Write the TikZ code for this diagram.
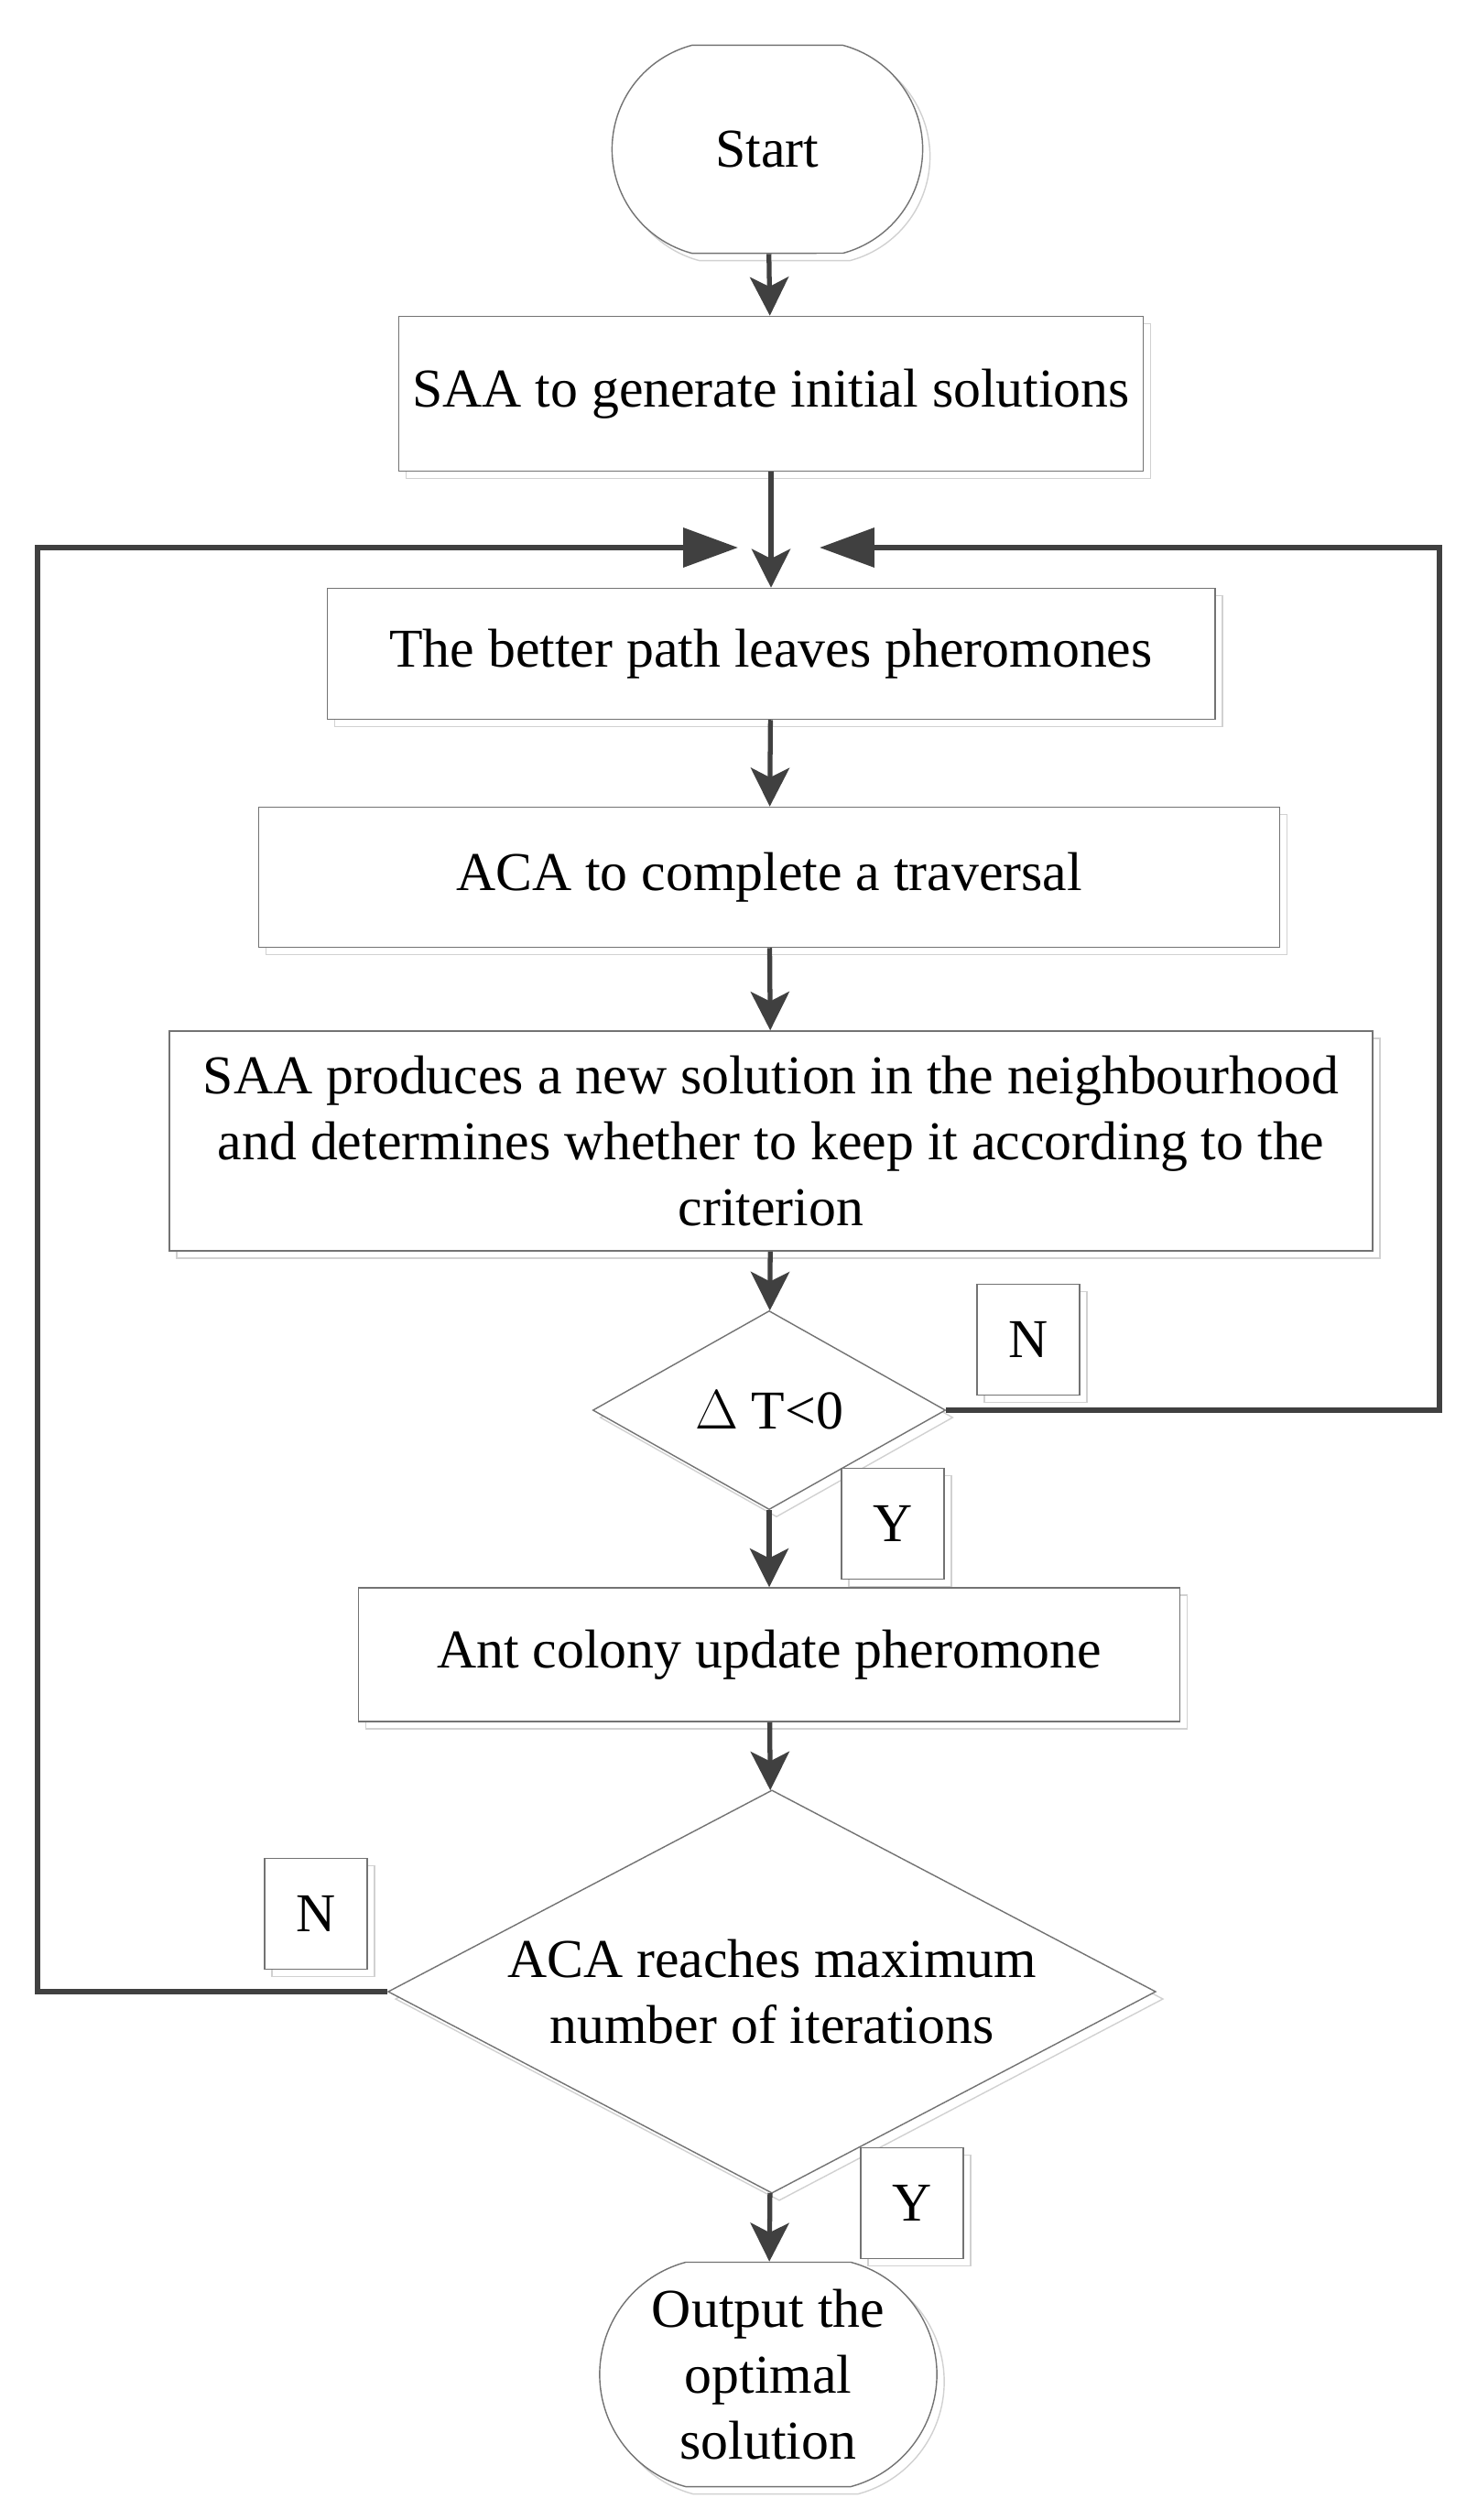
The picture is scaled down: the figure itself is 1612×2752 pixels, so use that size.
\documentclass[tikz,border=0pt]{standalone}
\usepackage{fontspec}
\setmainfont{Liberation Serif}
\usetikzlibrary{shapes.geometric,shapes.misc,arrows.meta}

\tikzset{
  shade box/.style={preaction={draw=black!18, transform canvas={shift={(0.08cm,-0.08cm)}}}},
  txt/.style={font=\fontsize{17}{20.5}\selectfont, align=center},
  stepbox/.style={draw=black!55, line width=0.4pt, fill=white, txt, inner sep=0pt, shade box},
  terminal/.style={stepbox, rounded rectangle, rounded rectangle arc length=150},
  decision/.style={stepbox, diamond},
  yesno/.style={stepbox, minimum width=1.12cm, minimum height=1.21cm},
  flow/.style={draw=black!75, line width=1.5pt, -{Stealth[length=12pt,width=12pt,inset=3pt]}},
  loop/.style={draw=black!75, line width=1.6pt, -{Stealth[length=17pt,width=12pt,inset=0pt]}},
}

\begin{document}
\begin{tikzpicture}[x=0.01cm,y=-0.01cm]
  \useasboundingbox (0,0) rectangle (1612,2752);

  \node[terminal, minimum width=3.39cm, minimum height=2.27cm] (start) at (838,163) {Start};
  \node[stepbox, minimum width=8.12cm, minimum height=1.69cm] (saa) at (842,430) {SAA to generate initial solutions};
  \node[stepbox, minimum width=9.69cm, minimum height=1.43cm] (better) at (842,714) {The better path leaves pheromones};
  \node[stepbox, minimum width=11.14cm, minimum height=1.53cm] (aca) at (840,958) {ACA to complete a traversal};
  \node[stepbox, minimum width=13.13cm, minimum height=2.40cm] (neigh) at (842,1246)
    {SAA produces a new solution in the neighbourhood\\and determines whether to keep it according to the\\criterion};
  \node[decision, aspect=1.77, minimum width=3.85cm, minimum height=2.17cm] (dT) at (840,1540) {$\Delta$ T<0};
  \node[stepbox, minimum width=8.97cm, minimum height=1.46cm] (ant) at (840,1807) {Ant colony update pheromone};
  \node[decision, aspect=1.9, minimum width=8.38cm, minimum height=4.40cm] (iter) at (843,2175)
    {ACA reaches maximum\\number of iterations};
  \node[terminal, minimum width=3.68cm, minimum height=2.45cm] (stop) at (839,2593)
    {Output the\\optimal\\solution};

  % yes / no labels
  \node[yesno] (n1) at (1123,1463) {N};
  \node[yesno] (y1) at (975,1664) {Y};
  \node[yesno] (n2) at (345,2090) {N};
  \node[yesno] (y2) at (996,2406) {Y};

  \coordinate (inL) at (806,598);
  \coordinate (inR) at (895,598);

  \draw[flow] (start) -- (saa);
  \draw[flow] (saa) -- (better);
  \draw[flow] (better) -- (aca);
  \draw[flow] (aca) -- (neigh);
  \draw[flow] (neigh) -- (dT);
  \draw[flow] (dT) -- (ant);
  \draw[flow] (ant) -- (iter);
  \draw[flow] (iter) -- (stop);

  \draw[loop] (dT.east) -- (1572,1540) -- (1572,598) -- (inR);
  \draw[loop] (iter.west) -- (41,2175) -- (41,598) -- (inL);
\end{tikzpicture}
\end{document}
